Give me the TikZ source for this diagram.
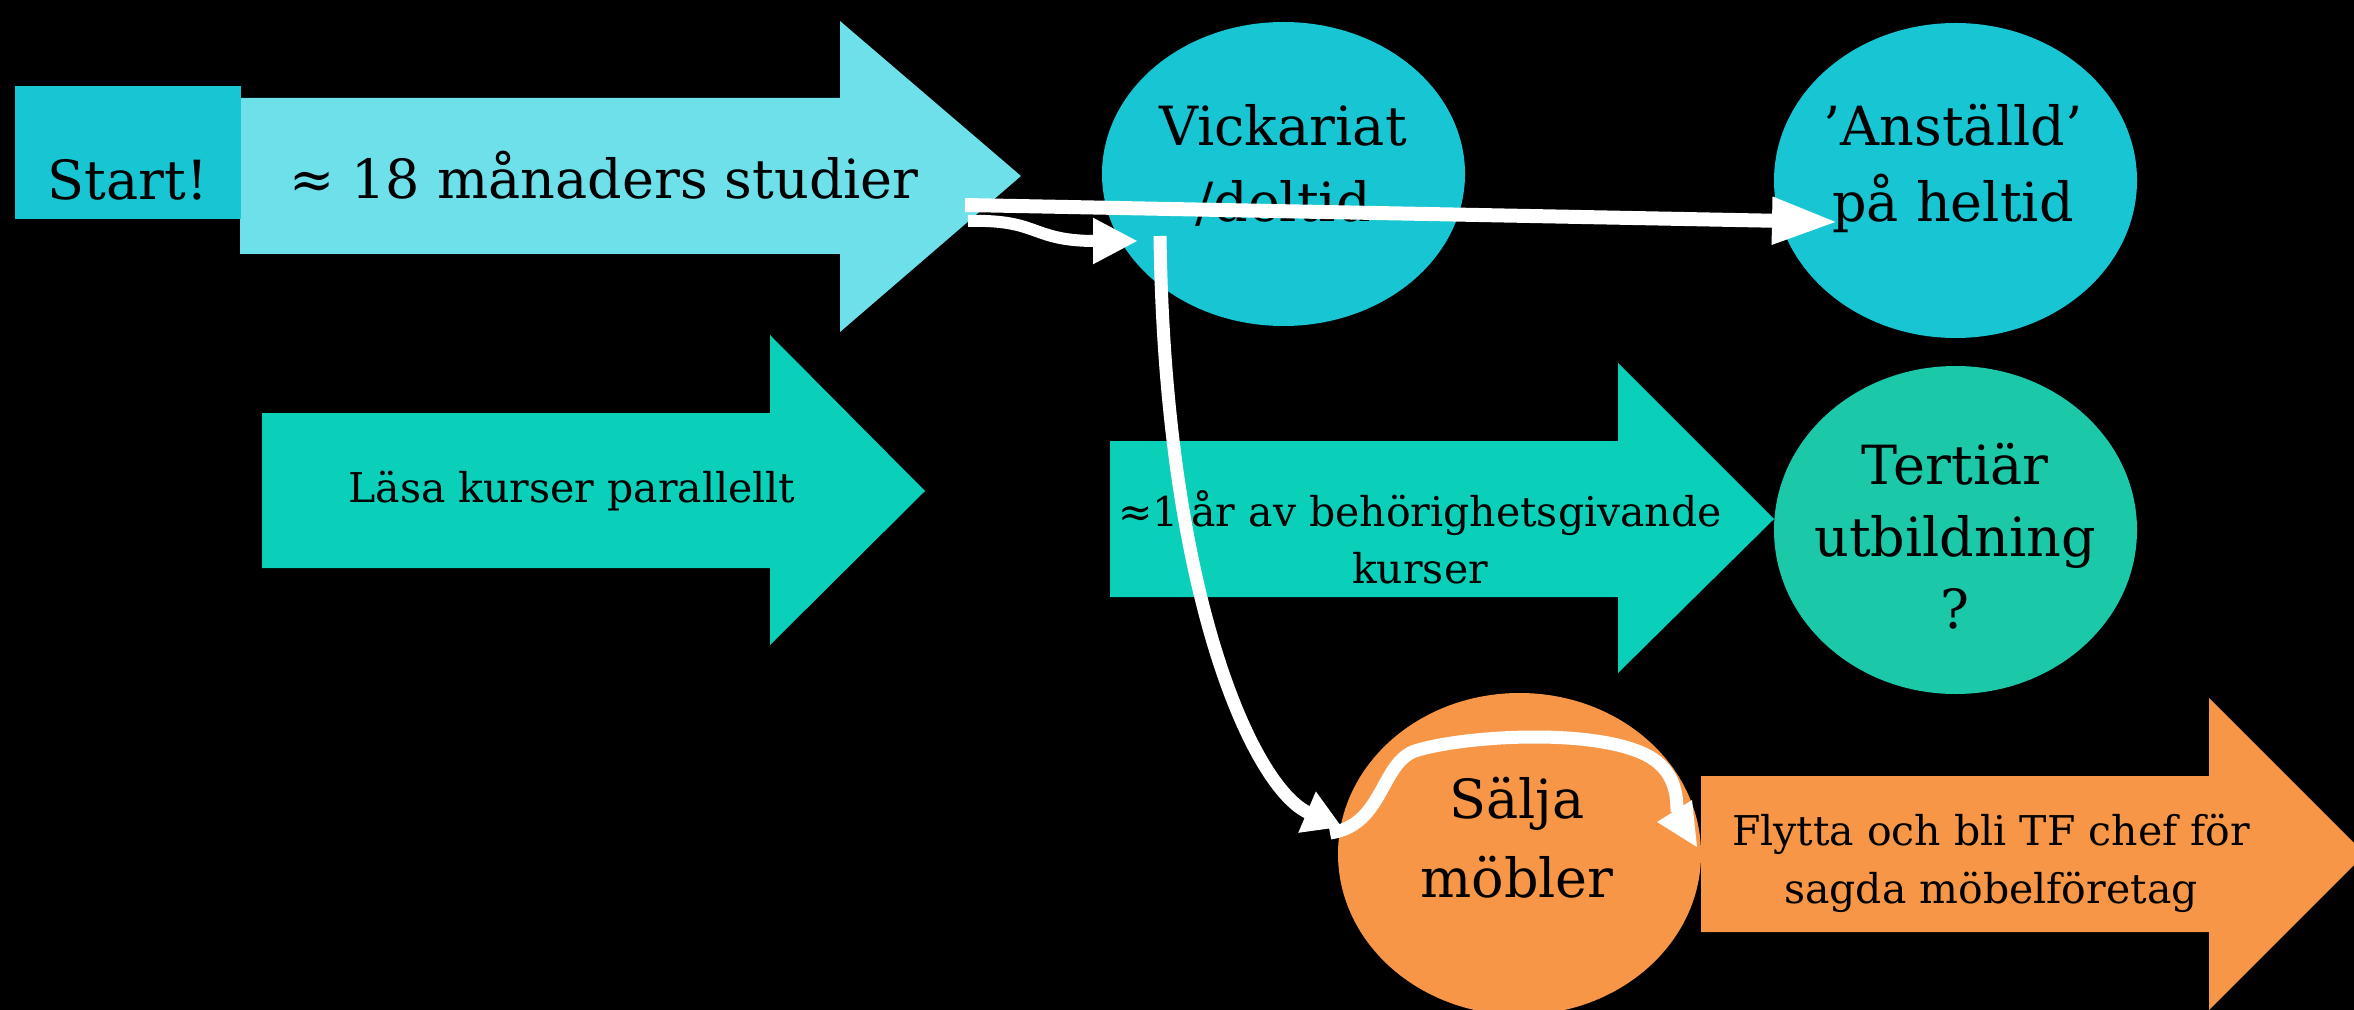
\documentclass[tikz,border=0pt]{standalone}
\usepackage{fontspec}
\setmainfont{DejaVu Serif}
\usetikzlibrary{arrows.meta,shapes.geometric}
\definecolor{cyanA}{HTML}{17C6D2}
\definecolor{cyanL}{HTML}{6DE0E9}
\definecolor{tealA}{HTML}{0ACFB9}
\definecolor{tealB}{HTML}{1BC8A8}
\definecolor{orangeA}{HTML}{F79646}
\begin{document}
\begin{tikzpicture}[x=0.5pt,y=-0.5pt,
  bigtxt/.style={font=\fontsize{27}{38}\selectfont, align=center, text=black, inner sep=0pt, anchor=base},
  smalltxt/.style={font=\fontsize{20.5}{28.5}\selectfont, align=center, text=black, inner sep=0pt, anchor=base},
  oval/.style={ellipse, inner sep=0pt, minimum width=181.5pt},
  conn/.style={draw=white, line width=6.5pt}]
\fill[black] (0,0) rectangle (2354,1010);
\useasboundingbox (0,0) rectangle (2354,1010);

% block arrows
\fill[cyanL] (240,98) -- (840,98) -- (840,21) -- (1021,176) -- (840,332) -- (840,254) -- (240,254) -- cycle;
\fill[tealA] (262,413) -- (770,413) -- (770,335) -- (925,491) -- (770,645) -- (770,568) -- (262,568) -- cycle;
\fill[tealA] (1110,441) -- (1618,441) -- (1618,363) -- (1774,519) -- (1618,673) -- (1618,597) -- (1110,597) -- cycle;
\fill[orangeA] (1701,776) -- (2209,776) -- (2209,698) -- (2365,854) -- (2209,1010) -- (2209,932) -- (1701,932) -- cycle;

% start box
\node[fill=cyanA, minimum width=113pt, minimum height=66.5pt, inner sep=0pt] (startbox) at (128,152.5) {};

% ellipses
\node[oval, fill=cyanA, minimum height=152pt] (vick) at (1283.5,174) {};
\node[oval, fill=cyanA, minimum height=157.5pt] (anst) at (1955.5,180.5) {};
\node[oval, fill=tealB, minimum height=164pt] (tert) at (1955.5,530) {};
\node[oval, fill=orangeA, minimum height=161pt] (salja) at (1519.5,854) {};

% texts (anchor=base is the baseline of the last line)
\node[bigtxt] (starttxt) at (128,200) {Start!};
\node[bigtxt] (studtxt) at (604,199) {≈ 18 månaders studier};
\node[smalltxt] (lasatxt) at (572,502) {Läsa kurser parallellt};
\node[smalltxt] (artxt) at (1420,583) {≈1 år av behörighetsgivande\\kurser};
\node[bigtxt] (vicktxt) at (1283,222) {Vickariat\\/deltid};
\node[bigtxt] (ansttxt) at (1953,222) {’Anställd’\\på heltid};
\node[bigtxt, font=\fontsize{27}{36}\selectfont] (terttxt) at (1955,628) {Tertiär\\utbildning\\?};
\node[bigtxt, font=\fontsize{27}{39.5}\selectfont] (saljatxt) at (1517,897) {Sälja\\möbler};
\node[smalltxt, font=\fontsize{20.5}{29}\selectfont] (flyttatxt) at (1991,903) {Flytta och bli TF chef för\\sagda möbelföretag};

% connector end points
\coordinate (c1s) at (965,205);
\coordinate (c1e) at (1838,222);
\coordinate (c2s) at (968,221);
\coordinate (c2e) at (1138,241);
\coordinate (c3s) at (1160,236);
\coordinate (c3e) at (1342,827);
\coordinate (c4s) at (1330,833);
\coordinate (c4e) at (1677,812);

% connectors
\draw[conn, line width=7pt, -{Triangle[length=33pt,width=22pt]}] (c1s) -- (c1e);
\draw[conn, line width=6pt, -{Triangle[length=22.5pt,width=21.5pt]}] (c2s) .. controls (1040,219) and (1030,241) .. (c2e);
\draw[conn, -{Triangle[length=19pt,width=21pt]}] (c3s) .. controls (1165,600) and (1255,790) .. (c3e);
\draw[conn] (c4s) .. controls (1385,825) and (1380,760) .. (1418,750) .. controls (1470,735) and (1600,728) .. (1650,757) .. controls (1675,772) and (1677,795) .. (c4e);
\fill[white] (1692,800) -- (1697,847) -- (1657,822) -- cycle;
\end{tikzpicture}
\end{document}
